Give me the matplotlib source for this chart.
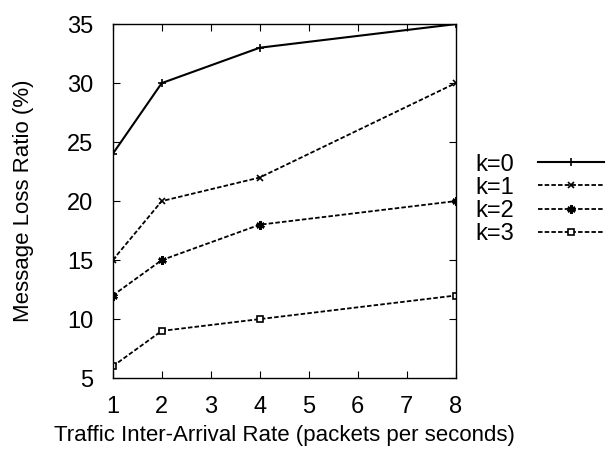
import matplotlib
matplotlib.use('Agg')
import matplotlib.pyplot as plt

plt.rcParams['font.family'] = ['Liberation Sans', 'DejaVu Sans']

rates = [1, 2, 4, 8]
loss_k0 = [24, 30, 33, 35]
loss_k1 = [15, 20, 22, 30]
loss_k2 = [12, 15, 18, 20]
loss_k3 = [6, 9, 10, 12]
labels = ['k=0', 'k=1', 'k=2', 'k=3']

fig = plt.figure(figsize=(6.06, 4.55), dpi=100)
ax = fig.add_axes([0.186, 0.169, 0.566, 0.778])

dash = (0, (2.5, 1.2))
ax.plot(rates, loss_k0, color='black', lw=1.5, marker='+', ms=6, mew=1.2, label=labels[0])
ax.plot(rates, loss_k1, color='black', lw=1.3, ls=dash, marker='x', ms=5, mew=1.2, label=labels[1])
ax.plot(rates, loss_k2, color='black', lw=1.3, ls=dash, marker=(6, 2, 0), ms=6, mew=1.8, label=labels[2])
ax.plot(rates, loss_k3, color='black', lw=1.3, ls=dash, marker='s', ms=5, mfc='white', mew=1.2, label=labels[3])

ax.set_xlim(1, 8)
ax.set_ylim(5, 35)
ax.set_xticks(range(1, 9))
ax.set_yticks(range(5, 36, 5))
ax.tick_params(direction='in', top=True, right=True, labelsize=17, length=5)
ax.tick_params(axis='x', pad=13)
ax.tick_params(axis='y', pad=14)
for s in ax.spines.values():
    s.set_linewidth(1.0)

ax.set_xlabel('Traffic Inter-Arrival Rate (packets per seconds)', fontsize=16, labelpad=5)
ax.set_ylabel('Message Loss Ratio (%)', fontsize=16, labelpad=24)

leg = ax.legend(loc='center left', bbox_to_anchor=(0.995, 0.505), frameon=False,
                fontsize=17, markerfirst=False, handlelength=2.8, labelspacing=0.05,
                handletextpad=1.0)

fig.savefig('out.png', dpi=100)
